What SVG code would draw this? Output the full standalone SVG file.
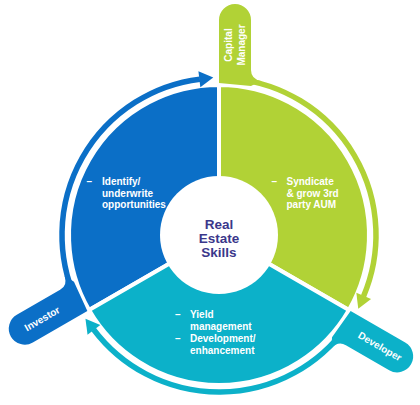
<svg xmlns="http://www.w3.org/2000/svg" width="420" height="405" viewBox="0 0 420 405">
<style>
.seg{stroke:#fff;stroke-width:4;stroke-linejoin:round}
.blue{fill:#0b6fc7}
.green{fill:#b1d236}
.teal{fill:#0cb1c9}
.lbl{font-family:"Liberation Sans",Arial,sans-serif;font-weight:bold;font-size:10px;fill:#fff}
.ctr{font-family:"Liberation Sans",Arial,sans-serif;font-weight:bold;font-size:13.5px;fill:#3b378b;text-anchor:middle}
.ring{fill:none;stroke-width:5.5}
</style>
<defs>
<marker id="ah-blue" markerUnits="userSpaceOnUse" viewBox="0 0 14 16" markerWidth="14" markerHeight="16" refX="0.5" refY="8" orient="auto" overflow="visible"><path d="M0,0 L14,8 L0,16 Z" fill="#0b6fc7"/></marker>
<marker id="ah-green" markerUnits="userSpaceOnUse" viewBox="0 0 14 16" markerWidth="14" markerHeight="16" refX="0.5" refY="8" orient="auto" overflow="visible"><path d="M0,0 L14,8 L0,16 Z" fill="#b1d236"/></marker>
<marker id="ah-teal" markerUnits="userSpaceOnUse" viewBox="0 0 14 16" markerWidth="14" markerHeight="16" refX="0.5" refY="8" orient="auto" overflow="visible"><path d="M0,0 L14,8 L0,16 Z" fill="#0cb1c9"/></marker>
<path id="tab" d="M219,83 V20 A16,16 0 0 1 251,20 V70 Q251,79 261,81 L251,86 Z"/>
</defs>

<g id="segment-investor">
<path class="seg blue" d="M219,235 L89.1,310 A150,150 0 0 1 219,85 Z"/>
<text class="lbl" x="86.5" y="185">–</text>
<text class="lbl" x="102" y="185">Identify/</text>
<text class="lbl" x="102" y="196.5">underwrite</text>
<text class="lbl" x="102" y="208">opportunities</text>
</g>
<g id="segment-capital-manager">
<path class="seg green" d="M219,235 L219,85 A150,150 0 0 1 348.9,310 Z"/>
<text class="lbl" x="271.5" y="185">–</text>
<text class="lbl" x="286.5" y="185">Syndicate</text>
<text class="lbl" x="286.5" y="196.5">&amp; grow 3rd</text>
<text class="lbl" x="286.5" y="208">party AUM</text>
</g>
<g id="segment-developer">
<path class="seg teal" d="M219,235 L348.9,310 A150,150 0 0 1 89.1,310 Z"/>
<text class="lbl" x="175" y="318.3">–</text>
<text class="lbl" x="190" y="318.3">Yield</text>
<text class="lbl" x="190" y="330">management</text>
<text class="lbl" x="175" y="342.3">–</text>
<text class="lbl" x="190" y="342.3">Development/</text>
<text class="lbl" x="190" y="354">enhancement</text>
</g>

<g id="center">
<circle cx="219" cy="235" r="59" fill="#fff"/>
<text class="ctr" x="219" y="229.3">Real</text>
<text class="ctr" x="219" y="243.3">Estate</text>
<text class="ctr" x="219" y="257.3">Skills</text>
</g>

<g id="connectors">
<path class="ring" stroke="#0b6fc7" marker-end="url(#ah-blue)" d="M75.57,298.86 A157,157 0 0 1 199.87,79.17"/>
<path class="ring" stroke="#b1d236" marker-end="url(#ah-green)" d="M235.41,78.86 A157,157 0 0 1 363.52,296.34"/>
<path class="ring" stroke="#0cb1c9" marker-end="url(#ah-teal)" d="M346.02,327.28 A157,157 0 0 1 93.61,329.49"/>
</g>

<g id="capital-manager">
<use href="#tab" class="green"/>
<text class="lbl" text-anchor="middle" transform="translate(232,45) rotate(-90)">Capital</text>
<text class="lbl" text-anchor="middle" transform="translate(245,45) rotate(-90)">Manager</text>
</g>
<g id="developer" transform="rotate(120 219 235)">
<use href="#tab" class="teal"/>
<text class="lbl" text-anchor="middle" transform="translate(238.5,40) rotate(-90)">Developer</text>
</g>
<g id="investor" transform="rotate(240 219 235)">
<use href="#tab" class="blue"/>
<text class="lbl" text-anchor="middle" transform="translate(231.5,40) rotate(90)">Investor</text>
</g>
</svg>
